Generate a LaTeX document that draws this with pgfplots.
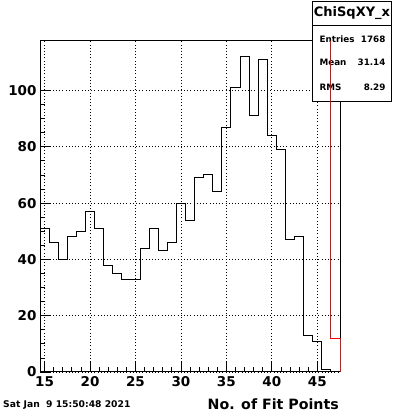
\documentclass[border=0pt]{standalone}
\usepackage{pgfplots}
\pgfplotsset{compat=1.18}
\usepackage{fontspec}
\setmainfont{DejaVu Sans}
\begin{document}
\begin{tikzpicture}[x=1pt,y=1pt]
\useasboundingbox (0,0) rectangle (400,414);
\fill[white] (0,0) rectangle (400,414);
\begin{axis}[
  at={(40pt,42pt)}, anchor=south west,
  scale only axis, width=300pt, height=331pt,
  xmin=14.5, xmax=47.5, ymin=0, ymax=117.6,
  clip=false,
  axis line style={line width=1pt},
  xtick={15,20,25,30,35,40,45},
  ytick={0,20,40,60,80,100},
  minor x tick num=4, minor y tick num=3,
  xtick pos=left, ytick pos=left,
  tick align=inside,
  major tick length=10pt, minor tick length=5pt,
  tick style={black, line width=0.8pt},
  grid=major,
  major grid style={black, line width=0.8pt, dash pattern=on 1pt off 2.2pt},
  /pgf/number format/assume math mode=true,
  ticklabel style={font=\fontsize{13.5}{14}\selectfont\bfseries},
  xticklabel style={anchor=north, yshift=-1pt},
  yticklabel style={anchor=east, xshift=0pt},
]
\addplot[const plot, black, line width=1pt] coordinates {
(14.5,51)(15.5,46)(16.5,40)(17.5,48)(18.5,50)(19.5,57)(20.5,51)(21.5,38)
(22.5,35)(23.5,33)(24.5,33)(25.5,44)(26.5,51)(27.5,43)(28.5,46)(29.5,60)
(30.5,54)(31.5,69)(32.5,70)(33.5,64)(34.5,87)(35.5,101)(36.5,112)(37.5,91)
(38.5,111)(39.5,84)(40.5,79)(41.5,47)(42.5,48)(43.5,13)(44.5,11)(45.5,1)
(46.5,0)(47.5,0)};
\draw[black, line width=1pt, fill=white]
  (axis description cs:0.9067,0.8157) rectangle (axis description cs:1.1733,1.1208);
\draw[black, line width=1pt]
  (axis description cs:0.9067,1.0453) -- (axis description cs:1.1733,1.0453);
\node[font=\fontsize{13}{14}\selectfont\bfseries] at (axis description cs:1.04,1.0831) {ChiSqXY\_x};
\node[font=\fontsize{8.8}{10}\selectfont\bfseries, anchor=base west] at (axis description cs:0.9200,0.9940) {Entries};
\node[font=\fontsize{8.8}{10}\selectfont\bfseries, anchor=base east] at (axis description cs:1.1633,0.9940) {1768};
\node[font=\fontsize{8.8}{10}\selectfont\bfseries, anchor=base west] at (axis description cs:0.9200,0.9245) {Mean};
\node[font=\fontsize{8.8}{10}\selectfont\bfseries, anchor=base east] at (axis description cs:1.1633,0.9245) {31.14};
\node[font=\fontsize{8.8}{10}\selectfont\bfseries, anchor=base west] at (axis description cs:0.9200,0.8490) {RMS};
\node[font=\fontsize{8.8}{10}\selectfont\bfseries, anchor=base east] at (axis description cs:1.1633,0.8490) {8.29};
\addplot[red, line width=1pt] coordinates {(46.5,117.6)(46.5,12)(47.5,12)(47.5,0)};
\end{axis}
\node[anchor=base east, inner sep=0pt, font=\fontsize{14.2}{15}\selectfont\bfseries] at (339,5) {No. of Fit Points};
\node[anchor=base west, inner sep=0pt, font=\fontsize{9.2}{10}\selectfont\bfseries] at (3,6) {Sat Jan\ \ 9 15:50:48 2021};
\end{tikzpicture}
\end{document}
